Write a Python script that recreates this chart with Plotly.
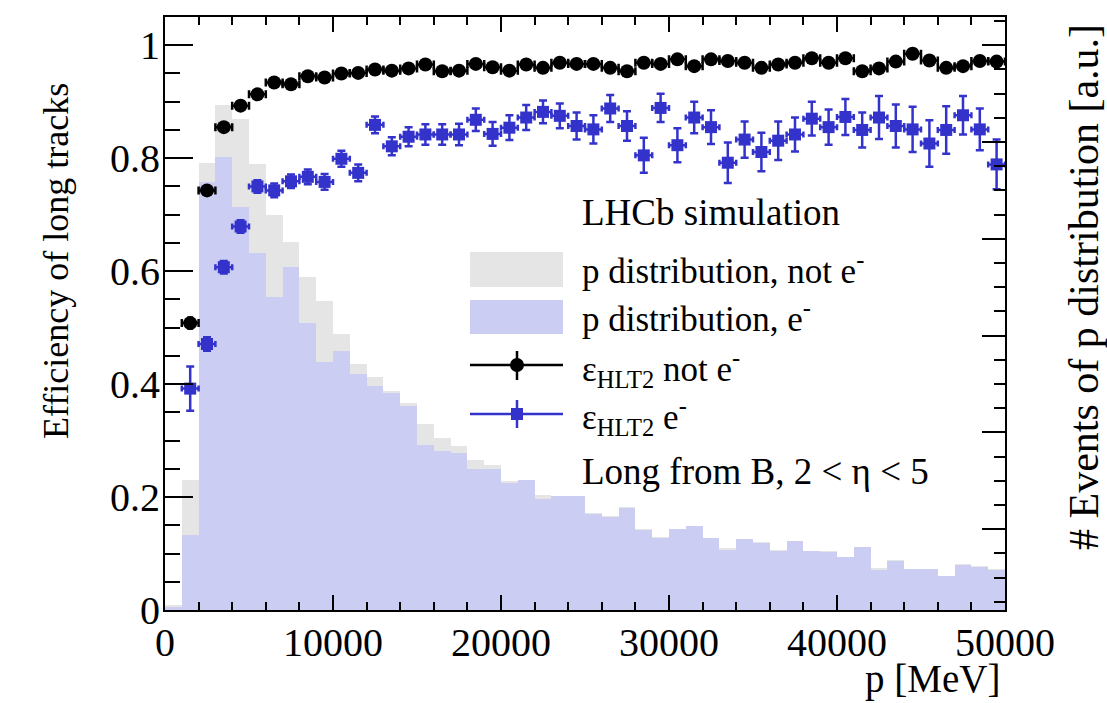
import plotly.graph_objects as go

# ---------------- data ----------------
bin_centers = [500, 1500, 2500, 3500, 4500, 5500, 6500, 7500, 8500, 9500,
               10500, 11500, 12500, 13500, 14500, 15500, 16500, 17500, 18500, 19500,
               20500, 21500, 22500, 23500, 24500, 25500, 26500, 27500, 28500, 29500,
               30500, 31500, 32500, 33500, 34500, 35500, 36500, 37500, 38500, 39500,
               40500, 41500, 42500, 43500, 44500, 45500, 46500, 47500, 48500, 49500]
bin_width = 1000

# p distributions (arbitrary units)
hist_not_e = [0.008, 0.231, 0.792, 0.894, 0.869, 0.789, 0.700, 0.652, 0.589, 0.548,
              0.489, 0.436, 0.413, 0.387, 0.366, 0.330, 0.305, 0.290, 0.266, 0.256,
              0.228, 0.231, 0.203, 0.202, 0.202, 0.171, 0.166, 0.182, 0.143, 0.129,
              0.144, 0.149, 0.128, 0.109, 0.126, 0.120, 0.106, 0.123, 0.105, 0.104,
              0.094, 0.112, 0.074, 0.088, 0.073, 0.073, 0.061, 0.081, 0.078, 0.072]
hist_e = [0.006, 0.133, 0.757, 0.802, 0.713, 0.632, 0.555, 0.607, 0.508, 0.440,
          0.459, 0.418, 0.396, 0.385, 0.362, 0.293, 0.282, 0.278, 0.249, 0.249,
          0.225, 0.230, 0.197, 0.201, 0.201, 0.170, 0.165, 0.181, 0.141, 0.128,
          0.143, 0.148, 0.127, 0.106, 0.125, 0.119, 0.105, 0.122, 0.104, 0.103,
          0.093, 0.111, 0.071, 0.087, 0.072, 0.072, 0.060, 0.080, 0.077, 0.071]

# efficiencies (bin centres from 1500 to 49500)
eff_p = bin_centers[1:]
eff_not_e = [0.508, 0.743, 0.855, 0.893, 0.913, 0.934, 0.931, 0.945, 0.943, 0.950,
             0.951, 0.957, 0.955, 0.959, 0.966, 0.954, 0.955, 0.967, 0.961, 0.955,
             0.966, 0.960, 0.969, 0.967, 0.967, 0.960, 0.954, 0.969, 0.967, 0.975,
             0.963, 0.975, 0.972, 0.969, 0.960, 0.966, 0.969, 0.977, 0.969, 0.977,
             0.954, 0.959, 0.971, 0.985, 0.973, 0.960, 0.963, 0.972, 0.971]
err_not_e = [0.010, 0.006, 0.005, 0.004, 0.004, 0.004, 0.004, 0.004, 0.004, 0.004,
             0.004, 0.004, 0.004, 0.004, 0.004, 0.004, 0.004, 0.004, 0.004, 0.004,
             0.004, 0.004, 0.004, 0.004, 0.004, 0.004, 0.004, 0.004, 0.004, 0.004,
             0.004, 0.004, 0.004, 0.004, 0.004, 0.004, 0.004, 0.004, 0.004, 0.004,
             0.004, 0.004, 0.004, 0.004, 0.004, 0.004, 0.004, 0.004, 0.004]
eff_e = [0.392, 0.471, 0.607, 0.679, 0.750, 0.743, 0.759, 0.767, 0.758, 0.799,
         0.774, 0.859, 0.821, 0.838, 0.842, 0.842, 0.842, 0.868, 0.843, 0.854,
         0.872, 0.882, 0.875, 0.857, 0.851, 0.888, 0.857, 0.805, 0.889, 0.823,
         0.872, 0.855, 0.792, 0.833, 0.811, 0.831, 0.842, 0.870, 0.855, 0.873,
         0.850, 0.872, 0.857, 0.851, 0.826, 0.850, 0.876, 0.851, 0.789]
err_e = [0.039, 0.012, 0.011, 0.011, 0.011, 0.012, 0.012, 0.013, 0.014, 0.014,
         0.015, 0.015, 0.016, 0.017, 0.018, 0.018, 0.019, 0.020, 0.021, 0.022,
         0.022, 0.020, 0.022, 0.024, 0.025, 0.024, 0.026, 0.031, 0.025, 0.030,
         0.028, 0.030, 0.036, 0.032, 0.034, 0.034, 0.030, 0.030, 0.031, 0.032,
         0.031, 0.038, 0.038, 0.040, 0.041, 0.042, 0.034, 0.037, 0.044]

x_tickvals = [0, 10000, 20000, 30000, 40000, 50000]
x_ticktext = ["0", "10000", "20000", "30000", "40000", "50000"]
y_tickvals = [0, 0.2, 0.4, 0.6, 0.8, 1.0]
y_ticktext = ["0", "0.2", "0.4", "0.6", "0.8", "1"]

# ---------------- style ----------------
FONT = "Liberation Serif, Times New Roman, serif"
GREY = "#e5e5e5"
LBLUE = "#cccdf2"
BLUE = "#3333cc"

W, H = 1107, 703
L, R, T, B = 165, 102, 17, 93
PW, PH = W - L - R, H - T - B


def px(x):
    return (x - L) / PW


def py(y):
    return (H - B - y) / PH


fig = go.Figure()

fig.add_trace(go.Bar(x=bin_centers, y=hist_not_e, width=bin_width,
                     marker=dict(color=GREY, line=dict(width=0)),
                     xaxis="x", yaxis="y", showlegend=False, hoverinfo="skip"))
fig.add_trace(go.Bar(x=bin_centers, y=hist_e, width=bin_width,
                     marker=dict(color=LBLUE, line=dict(width=0)),
                     xaxis="x", yaxis="y", showlegend=False, hoverinfo="skip"))

fig.add_trace(go.Scatter(x=eff_p, y=eff_e, mode="markers", yaxis="y2",
                         marker=dict(symbol="square", size=12, color=BLUE),
                         error_x=dict(type="constant", value=bin_width / 2, width=3,
                                      thickness=2.5, color=BLUE),
                         error_y=dict(type="data", array=err_e, width=4,
                                      thickness=2.5, color=BLUE),
                         showlegend=False))
fig.add_trace(go.Scatter(x=eff_p, y=eff_not_e, mode="markers", yaxis="y2",
                         marker=dict(symbol="circle", size=14, color="black"),
                         error_x=dict(type="constant", value=bin_width / 2, width=4,
                                      thickness=2.5, color="black"),
                         error_y=dict(type="data", array=err_not_e, width=3,
                                      thickness=2, color="black"),
                         showlegend=False))

right_major = 0.1714
fig.update_layout(
    width=W, height=H,
    margin=dict(l=L, r=R, t=T, b=B, pad=0),
    paper_bgcolor="white", plot_bgcolor="white",
    barmode="overlay", bargap=0,
    font=dict(family=FONT, size=36, color="black"),
    xaxis=dict(range=[0, 50000], showgrid=False, zeroline=False,
               showline=True, linecolor="black", linewidth=2, mirror="ticks",
               ticks="inside", ticklen=15, tickwidth=2, tickcolor="black",
               tickvals=x_tickvals, ticktext=x_ticktext,
               tickfont=dict(family=FONT, size=40), ticklabelstandoff=-4,
               minor=dict(ticks="inside", ticklen=8, dtick=2000, tick0=0,
                          tickcolor="black", tickwidth=1.5, showgrid=False)),
    yaxis=dict(range=[0, 1.05], side="right", showgrid=False, zeroline=False,
               showline=True, linecolor="black", linewidth=2,
               ticks="inside", ticklen=23, tickwidth=2, tickcolor="black",
               tick0=1.0 - 5 * right_major, dtick=right_major,
               showticklabels=False,
               minor=dict(ticks="inside", ticklen=11, tick0=1.0 - 5 * right_major,
                          dtick=right_major / 4, tickcolor="black", tickwidth=2,
                          showgrid=False)),
    yaxis2=dict(range=[0, 1.05], side="left", overlaying="y", showgrid=False,
                zeroline=False, showline=True, linecolor="black", linewidth=2,
                ticks="inside", ticklen=28, tickwidth=2, tickcolor="black",
                tickvals=y_tickvals, ticktext=y_ticktext,
                tickfont=dict(family=FONT, size=40), ticklabelstandoff=-5,
                minor=dict(ticks="inside", ticklen=15, dtick=0.05, tick0=0,
                           tickcolor="black", tickwidth=2, showgrid=False)),
)

# ---------------- legend (drawn in paper coordinates) ----------------
shapes = []
# grey box
shapes.append(dict(type="rect", xref="paper", yref="paper",
                   x0=px(470), x1=px(563), y0=py(252), y1=py(287),
                   fillcolor=GREY, line=dict(width=0)))
# blue box
shapes.append(dict(type="rect", xref="paper", yref="paper",
                   x0=px(470), x1=px(563), y0=py(300), y1=py(334),
                   fillcolor=LBLUE, line=dict(width=0)))
# black marker entry
shapes.append(dict(type="line", xref="paper", yref="paper",
                   x0=px(470), x1=px(563), y0=py(365), y1=py(365),
                   line=dict(color="black", width=2.5)))
shapes.append(dict(type="line", xref="paper", yref="paper",
                   x0=px(517), x1=px(517), y0=py(351), y1=py(380),
                   line=dict(color="black", width=2.5)))
shapes.append(dict(type="circle", xref="paper", yref="paper",
                   x0=px(510), x1=px(524), y0=py(358), y1=py(372),
                   fillcolor="black", line=dict(width=0)))
# blue marker entry
shapes.append(dict(type="line", xref="paper", yref="paper",
                   x0=px(470), x1=px(563), y0=py(414), y1=py(414),
                   line=dict(color=BLUE, width=2.5)))
shapes.append(dict(type="line", xref="paper", yref="paper",
                   x0=px(517), x1=px(517), y0=py(400), y1=py(428),
                   line=dict(color=BLUE, width=2.5)))
shapes.append(dict(type="rect", xref="paper", yref="paper",
                   x0=px(511), x1=px(523), y0=py(408), y1=py(420),
                   fillcolor=BLUE, line=dict(width=0)))
fig.update_layout(shapes=shapes)

LEG_SIZE = 35
ann = []


def text(x, y, s, size=LEG_SIZE, **kw):
    d = dict(xref="paper", yref="paper", x=px(x), y=py(y), text=s,
             showarrow=False, xanchor="left", yanchor="middle", borderpad=0,
             font=dict(family=FONT, size=size, color="black"))
    d.update(kw)
    ann.append(d)


text(581, 212, "LHCb simulation", size=37)
text(581, 268, "p distribution, not e<sup>-</sup>")
text(581, 316, "p distribution, e<sup>-</sup>")
text(581, 368, "ε<sub>HLT2</sub> not e<sup>-</sup>")
text(581, 416, "ε<sub>HLT2</sub> e<sup>-</sup>")
text(581, 471, "Long from B, 2 &lt; η &lt; 5", size=37)

# axis titles
text(1001, 679, "p [MeV]", size=39, xanchor="right")
text(56, 261, "Efficiency of long tracks", size=36, xanchor="center", textangle=-90)
text(1084, 287, "# Events of p distribution [a.u.]", size=42, xanchor="center",
     textangle=-90)
fig.update_layout(annotations=ann)

fig.write_html("out.html")
